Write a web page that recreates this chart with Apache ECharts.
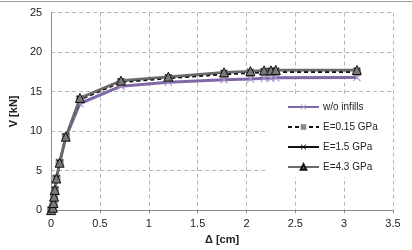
<!DOCTYPE html>
<html>
<head>
<meta charset="utf-8">
<script src="https://cdn.jsdelivr.net/npm/echarts@6/dist/echarts.min.js"></script>
<style>html,body{margin:0;padding:0;background:#fff}#c{width:412px;height:250px}</style>
</head>
<body>
<div id="c"></div>
<script>
// Displacement values (cm)
const dispWo   = [0, 0.018, 0.025, 0.03, 0.038, 0.054, 0.087, 0.15, 0.295, 0.715, 1.2, 1.77, 2.04, 2.18, 2.25, 2.3, 3.13];
const dispInf  = [0, 0.018, 0.025, 0.03, 0.038, 0.054, 0.087, 0.15, 0.295, 0.715, 1.2, 1.77, 2.04, 2.18, 2.25, 2.3, 3.13];
// Shear values (kN)
const vWo   = [0, 0.3, 0.9, 1.6, 2.5, 3.9, 6.0, 9.2, 13.5, 15.7, 16.2, 16.5, 16.6, 16.7, 16.7, 16.75, 16.8];
const vE015 = [0, 0.3, 0.9, 1.7, 2.55, 4.0, 6.0, 9.3, 14.0, 16.2, 16.7, 17.2, 17.35, 17.45, 17.5, 17.5, 17.5];
const vE15  = [0, 0.3, 0.9, 1.7, 2.55, 4.0, 6.0, 9.3, 14.1, 16.3, 16.8, 17.35, 17.5, 17.6, 17.65, 17.65, 17.65];
const vE43  = [0, 0.3, 0.9, 1.7, 2.55, 4.0, 6.0, 9.3, 14.2, 16.4, 16.9, 17.45, 17.6, 17.7, 17.7, 17.75, 17.75];
const seriesNames = ['w/o infills', 'E=0.15 GPa', 'E=1.5 GPa', 'E=4.3 GPa'];

const pair = (xs, ys) => xs.map((x, i) => [x, ys[i]]);
const cross = 'path://M0,1L1,0L5,4L9,0L10,1L6,5L10,9L9,10L5,6L1,10L0,9L4,5Z';

const chart = echarts.init(document.getElementById('c'), null, {renderer: 'canvas'});
chart.setOption({
  animation: false,
  backgroundColor: '#fff',
  textStyle: {fontFamily: 'Liberation Sans, Arial, sans-serif'},
  graphic: [{type: 'line', shape: {x1: 0, y1: 1.5, x2: 412, y2: 1.5}, style: {stroke: '#9a9a9a', lineWidth: 1}}],
  grid: {left: 39.5, right: 19, top: 12.7, bottom: 34.3, containLabel: false},
  xAxis: {
    type: 'value', min: 0, max: 3.5, interval: 0.5,
    name: 'Δ [cm]', nameLocation: 'middle', nameGap: 21,
    nameTextStyle: {fontWeight: 'bold', fontSize: 11, color: '#222'},
    axisLine: {show: true, onZero: false, lineStyle: {color: '#8c8c8c', width: 1}},
    axisTick: {show: true, length: 3, inside: false, lineStyle: {color: '#8c8c8c'}},
    axisLabel: {fontSize: 11, color: '#222', margin: 8},
    splitLine: {show: true, lineStyle: {color: '#b5b5b5', type: [4, 3], width: 1}}
  },
  yAxis: {
    type: 'value', min: 0, max: 25, interval: 5,
    name: 'V [kN]', nameLocation: 'middle', nameGap: 24, nameRotate: 90,
    nameTextStyle: {fontWeight: 'bold', fontSize: 11, color: '#222'},
    axisLine: {show: true, lineStyle: {color: '#8c8c8c', width: 1}},
    axisTick: {show: false},
    axisLabel: {fontSize: 11, color: '#222', margin: 9},
    splitLine: {show: true, lineStyle: {color: '#b5b5b5', type: [4, 3], width: 1}}
  },
  legend: {
    orient: 'vertical', left: 267, top: 97,
    padding: [5, 14, 5, 20], backgroundColor: '#fff',
    itemWidth: 31, itemHeight: 7, itemGap: 10,
    textStyle: {fontSize: 10, color: '#222', padding: [0, 0, 0, -1]},
    data: seriesNames
  },
  series: [
    {
      name: seriesNames[0], type: 'line', data: pair(dispWo, vWo), z: 2,
      lineStyle: {color: '#8068a8', width: 3},
      itemStyle: {color: '#a995cc'},
      symbol: cross, symbolSize: 8
    },
    {
      name: seriesNames[1], type: 'line', data: pair(dispInf, vE015), z: 3,
      lineStyle: {color: '#111', width: 2, type: [4, 3]},
      itemStyle: {color: '#8a8a8a', borderColor: '#8a8a8a'},
      symbol: 'rect', symbolSize: 7
    },
    {
      name: seriesNames[2], type: 'line', data: pair(dispInf, vE15), z: 4,
      lineStyle: {color: '#111', width: 1},
      itemStyle: {color: '#111'},
      symbol: cross, symbolSize: 7
    },
    {
      name: seriesNames[3], type: 'line', data: pair(dispInf, vE43), z: 5,
      lineStyle: {color: '#6a6a6a', width: 2.5},
      itemStyle: {color: '#7a7a7a', borderColor: '#111', borderWidth: 1},
      symbol: 'triangle', symbolSize: 9
    }
  ]
});
</script>
</body>
</html>
